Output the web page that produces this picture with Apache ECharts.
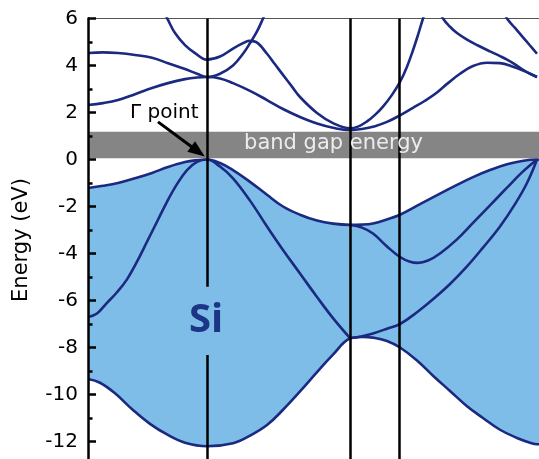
<!DOCTYPE html>
<html lang="en">
<head>
<meta charset="UTF-8">
<title>Si band structure</title>
<script src="https://cdn.jsdelivr.net/npm/echarts@6.0.0/dist/echarts.min.js"></script>
<style>
    html,body{margin:0;padding:0;background:#fff}
    #chart{width:539px;height:459px}
</style>
</head>
<body>
<div id="chart"></div>
<script>
// path coordinate along L - Gamma - X - U|K - Gamma, energies in eV
var kG = 119, kX = 262, kU = 311;
var kMax = 451;
var gapBottom = 0.05, gapTop = 1.18;
var gammaBreak = [-5.41, -8.32];   // the Gamma line is cut round the "Si" label

// valence bands
var vb1 = [[0,-9.34],[12,-9.5],[27,-9.95],[45,-10.66],[62,-11.25],[79,-11.7],[97,-12.05],[119,-12.2],
    [145,-12.07],[162,-11.75],[179,-11.3],[195,-10.65],[212,-9.87],[229,-9.05],[245,-8.3],[262,-7.62],
    [274,-7.55],[285,-7.58],[299,-7.72],[312,-8.0],[329,-8.55],[345,-9.2],[362,-9.85],[379,-10.5],
    [395,-11.0],[412,-11.5],[429,-11.85],[442,-12.05],[449,-12.12],[451,-12.12]];
var vb2 = [[0,-6.7],[9,-6.55],[19,-6.1],[29,-5.65],[39,-5.1],[49,-4.35],[59,-3.5],[69,-2.65],[79,-1.8],
    [89,-1.05],[99,-0.45],[109,-0.1],[119,0],[132,-0.3],[145,-0.8],[162,-1.75],[179,-2.85],[195,-3.85],
    [212,-4.85],[229,-5.85],[245,-6.75],[262,-7.6]];
var vb3 = [[0,-1.21],[15,-1.12],[30,-1.0],[47,-0.8],[64,-0.57],[80,-0.32],[97,-0.11],[109,-0.03],[119,0],
    [132,-0.15],[145,-0.45],[162,-0.95],[179,-1.5],[195,-2.0],[212,-2.35],[229,-2.6],[245,-2.73],[262,-2.78],
    [274,-2.77],[285,-2.72],[299,-2.55],[312,-2.35],[332,-1.9],[352,-1.45],[369,-1.08],[385,-0.75],
    [402,-0.45],[419,-0.2],[434,-0.06],[449,0],[451,-0.01]];
var vb4 = [[262,-2.78],[274,-2.9],[285,-3.15],[299,-3.7],[312,-4.15],[322,-4.35],[330,-4.4],[340,-4.3],
    [352,-4.0],[369,-3.4],[385,-2.7],[402,-1.95],[419,-1.2],[434,-0.55],[449,0]];
var vb5 = [[262,-7.6],[274,-7.52],[285,-7.4],[299,-7.2],[312,-7.0],[329,-6.5],[345,-5.95],[362,-5.3],
    [379,-4.55],[395,-3.75],[412,-2.85],[427,-1.9],[439,-1.0],[449,0]];

// conduction bands
var cb1 = [[0,2.32],[15,2.4],[30,2.53],[47,2.78],[64,3.04],[80,3.25],[97,3.42],[109,3.49],[119,3.51],
    [132,3.45],[145,3.25],[162,2.92],[179,2.53],[195,2.15],[212,1.81],[229,1.53],[245,1.35],[262,1.25],
    [274,1.3],[287,1.42],[299,1.6],[312,1.88],[325,2.2],[337,2.5],[349,2.85],[360,3.25],[372,3.65],
    [385,3.98],[399,4.12],[412,4.1],[425,3.95],[437,3.75],[449,3.51]];
var cb2 = [[77,6.2],[80,5.94],[87,5.38],[97,4.87],[107,4.53],[119,4.25],[132,4.38],[145,4.72],[155,4.95],
    [161,5.05],[168,5.0],[179,4.5],[187,4.05],[195,3.6],[204,3.1],[212,2.66],[229,1.98],[245,1.55],
    [262,1.33],[270,1.4],[279,1.62],[287,1.9],[295,2.25],[304,2.75],[312,3.3],[319,3.95],[325,4.65],
    [330,5.3],[335,6.0],[338,6.4]];
var cb3 = [[0,4.53],[15,4.56],[30,4.53],[47,4.45],[64,4.33],[80,4.1],[97,3.85],[109,3.65],[119,3.51],
    [132,3.65],[145,4.0],[155,4.5],[162,4.95],[169,5.45],[175,6.0],[178,6.3]];
var cb4 = [[352,6.3],[355,6.0],[362,5.65],[369,5.38],[379,5.1],[390,4.85],[402,4.6],[412,4.4],[419,4.25],
    [427,4.05],[435,3.82],[442,3.65],[449,3.51]];
var cb5 = [[416,6.3],[419,6.0],[427,5.6],[435,5.2],[442,4.85],[449,4.5]];

var navy = '#1b2a80';
var font = '"DejaVu Sans", sans-serif';

function band(data, fill) {
    var s = {
        type: 'line',
        data: data,
        smooth: 0.4,
        showSymbol: false,
        silent: true,
        lineStyle: {color: navy, width: 2.6}
    };
    if (fill) s.areaStyle = {color: fill, opacity: 1, origin: 'start'};
    return s;
}

var chart = echarts.init(document.getElementById('chart'));
var option = {
    animation: false,
    // the plot runs past the bottom edge of the picture, so the grid is taller than the page
    grid: {left: 88, top: 18.5, width: kMax, height: 470, outerBoundsMode: 'none', containLabel: false},
    xAxis: {
        type: 'value', min: 0, max: kMax, position: 'top',
        axisLine: {show: true, onZero: false, lineStyle: {color: '#555', width: 1}},
        axisTick: {show: false}, axisLabel: {show: false}, splitLine: {show: false}
    },
    yAxis: {
        type: 'value', min: -14, max: 6, interval: 2, z: 10,
        axisLine: {show: true, lineStyle: {color: '#000', width: 2.5}},
        axisTick: {inside: true, length: 8, lineStyle: {color: '#000', width: 2.5}},
        minorTick: {show: true, splitNumber: 2, length: 4.5, lineStyle: {color: '#000', width: 2.5}},
        axisLabel: {fontFamily: font, fontSize: 20, color: '#000', margin: 10},
        splitLine: {show: false}
    },
    series: [
        band(vb3, '#7dbde8'),
        band(vb1, '#ffffff'),
        band(vb2), band(vb4), band(vb5),
        band(cb1), band(cb2), band(cb3), band(cb4), band(cb5),
        {
            type: 'line', data: [], z: 3,
            markArea: {
                silent: true,
                itemStyle: {color: '#858585'},
                data: [[{yAxis: gapBottom}, {yAxis: gapTop}]]
            }
        },
        {
            type: 'line', data: [],
            markLine: {
                silent: true, z: 6, symbol: 'none', label: {show: false},
                lineStyle: {color: '#000', width: 2.5, type: 'solid'},
                data: [
                    {xAxis: kX}, {xAxis: kU},
                    [{coord: [kG, 6]}, {coord: [kG, gammaBreak[0]]}],
                    [{coord: [kG, gammaBreak[1]]}, {coord: [kG, -14]}]
                ]
            }
        },
        {
            type: 'line', data: [],
            markLine: {
                silent: true, z: 7, symbol: ['none', 'triangle'], symbolSize: [13, 17],
                label: {show: false},
                lineStyle: {color: '#000', width: 3, type: 'solid'},
                data: [[{coord: [70, 1.6]}, {coord: [110, 0.34]}]]
            }
        }
    ],
    graphic: [
        {type: 'text', x: 22, y: 240, rotation: Math.PI / 2, z: 100,
            style: {text: 'Energy (eV)', font: '21px ' + font, fill: '#000', align: 'center', verticalAlign: 'middle'}},
        {type: 'text', x: 130, y: 113, z: 100,
            style: {text: 'Γ point', font: '20px ' + font, fill: '#000', align: 'left', verticalAlign: 'middle'}},
        {type: 'text', x: 333.5, y: 144, z: 100,
            style: {text: 'band gap energy', font: '21px ' + font, fill: '#ececec', align: 'center', verticalAlign: 'middle'}},
        {type: 'text', x: 206, y: 321, z: 100,
            style: {text: 'Si', font: 'bold 40px "Open Sans", sans-serif', fill: '#1c3587', align: 'center', verticalAlign: 'middle'}}
    ]
};
chart.setOption(option);
</script>
</body>
</html>
